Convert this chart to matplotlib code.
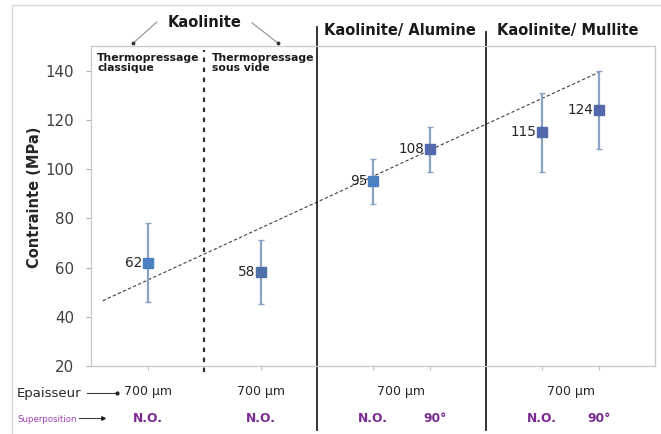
import matplotlib
matplotlib.use('Agg')
import matplotlib.pyplot as plt
from matplotlib.patches import Rectangle

# data
positions = [1, 3, 5, 6, 8, 9]
values = [62, 58, 95, 108, 115, 124]
errors = [16, 13, 9, 9, 16, 16]
marker_colors = ['#4a80c0', '#4f6fa8', '#4a80c0', '#5469ac', '#5469ac', '#5469ac']

thickness_pos = [1, 3, 5.5, 8.5]
thickness_labels = ['700 µm', '700 µm', '700 µm', '700 µm']
superpos_pos = [1, 3, 5, 6.1, 8, 9]
superpos_labels = ['N.O.', 'N.O.', 'N.O.', '90°', 'N.O.', '90°']

group_pos = [5.47, 8.45]
group_labels = ['Kaolinite/ Alumine', 'Kaolinite/ Mullite']

trend_x = [0.2, 9.0]
trend_y = [46.5, 139.3]

fig = plt.figure(figsize=(6.61, 4.34), dpi=100)
ax = fig.add_axes([0.1384, 0.1567, 0.8526, 0.7373])
ax.set_xlim(0, 10)
ax.set_ylim(20, 150)

# error bars and markers
for x, v, e, c in zip(positions, values, errors, marker_colors):
    ax.errorbar(x, v, yerr=e, fmt='none', ecolor='#8aa2c4', elinewidth=1.6,
                capsize=2, capthick=1, zorder=2)
    ax.plot(x, v, 's', color=c, markersize=6.5, zorder=3)
    ax.annotate(str(v), (x, v), xytext=(-4, 0), textcoords='offset points',
                ha='right', va='center', fontsize=9.8, color='#262626')

# trend line
ax.plot(trend_x, trend_y, '--', color='#404040', lw=0.8, dashes=(3, 2), zorder=1)

# separators
xt = ax.get_xaxis_transform()
ax.plot([2, 2], [-0.02, 0.988], transform=xt, color='#303030', lw=1.6,
        dashes=(2, 2.5), clip_on=False)
ax.plot([4, 4], [-0.2, 1.059], transform=xt, color='#222222', lw=1.3, clip_on=False)
ax.plot([7, 7], [-0.2, 1.044], transform=xt, color='#222222', lw=1.3, clip_on=False)

# axes style
for s in ax.spines.values():
    s.set_color('#c8c8c8')
    s.set_linewidth(0.9)
ax.set_yticks([20, 40, 60, 80, 100, 120, 140])
ax.tick_params(axis='y', length=3.5, color='#b0b0b0', pad=9, labelsize=10.8,
               labelcolor='#404040')
ax.set_xticks(positions)
ax.set_xticklabels([])
ax.tick_params(axis='x', length=3, color='#c0c0c0')

fig.text(35 / 661, 1 - 197 / 434, 'Contrainte (MPa)', rotation=90, ha='center',
         va='center', fontsize=10.5, fontweight='bold', color='#262626')

# top labels
ax.text(2, 1.072, 'Kaolinite', transform=xt, ha='center', va='center',
        fontsize=10.5, fontweight='bold', color='#1a1a1a')
ax.plot([1.16, 0.74], [1.075, 1.009], transform=xt, color='#909090', lw=0.8,
        clip_on=False)
ax.plot([2.85, 3.31], [1.072, 1.009], transform=xt, color='#909090', lw=0.8,
        clip_on=False)
ax.plot([0.74, 3.31], [1.009, 1.009], 'o', transform=xt, color='#303030',
        markersize=1.8, clip_on=False)
for x, lab in zip(group_pos, group_labels):
    ax.text(x, 1.05, lab, transform=xt, ha='center', va='center',
            fontsize=10.5, fontweight='bold', color='#1a1a1a')

ax.text(0.1, 0.978, 'Thermopressage\nclassique', transform=xt, ha='left',
        va='top', fontsize=7.8, fontweight='bold', linespacing=1.0, color='#1a1a1a')
ax.text(2.14, 0.978, 'Thermopressage\nsous vide', transform=xt, ha='left',
        va='top', fontsize=7.8, fontweight='bold', linespacing=1.0, color='#1a1a1a')

# bottom rows
fig.text(17 / 661, 1 - 393 / 434, 'Epaisseur', ha='left', va='center',
         fontsize=9.5, color='#262626')
fig.add_artist(plt.Line2D([87 / 661, 117 / 661], [1 - 393 / 434] * 2,
                          color='#404040', lw=0.8))
fig.add_artist(plt.Line2D([117 / 661], [1 - 393 / 434], marker='o',
                          markersize=2, color='#202020'))
fig.text(17 / 661, 1 - 419 / 434, 'Superposition', ha='left', va='center',
         fontsize=6.2, color='#a040b8')
fig.add_artist(plt.Line2D([79 / 661, 103 / 661], [1 - 418 / 434] * 2,
                          color='#404040', lw=0.8))
fig.add_artist(plt.Line2D([103 / 661], [1 - 418 / 434], marker='>',
                          markersize=2.5, color='#202020'))

for x, lab in zip(thickness_pos, thickness_labels):
    ax.text(x, -0.081, lab, transform=xt, ha='center', va='center',
            fontsize=9, color='#262626')
for x, lab in zip(superpos_pos, superpos_labels):
    ax.text(x, -0.163, lab, transform=xt, ha='center', va='center',
            fontsize=8.8, fontweight='bold', color='#7a2a90')

# outer frame
fig.add_artist(Rectangle((12 / 661, -0.01), 0.99, 1 - 5 / 434 + 0.01,
                         transform=fig.transFigure, fill=False,
                         edgecolor='#d8d8d8', lw=1))

fig.savefig('out.png', dpi=100)
